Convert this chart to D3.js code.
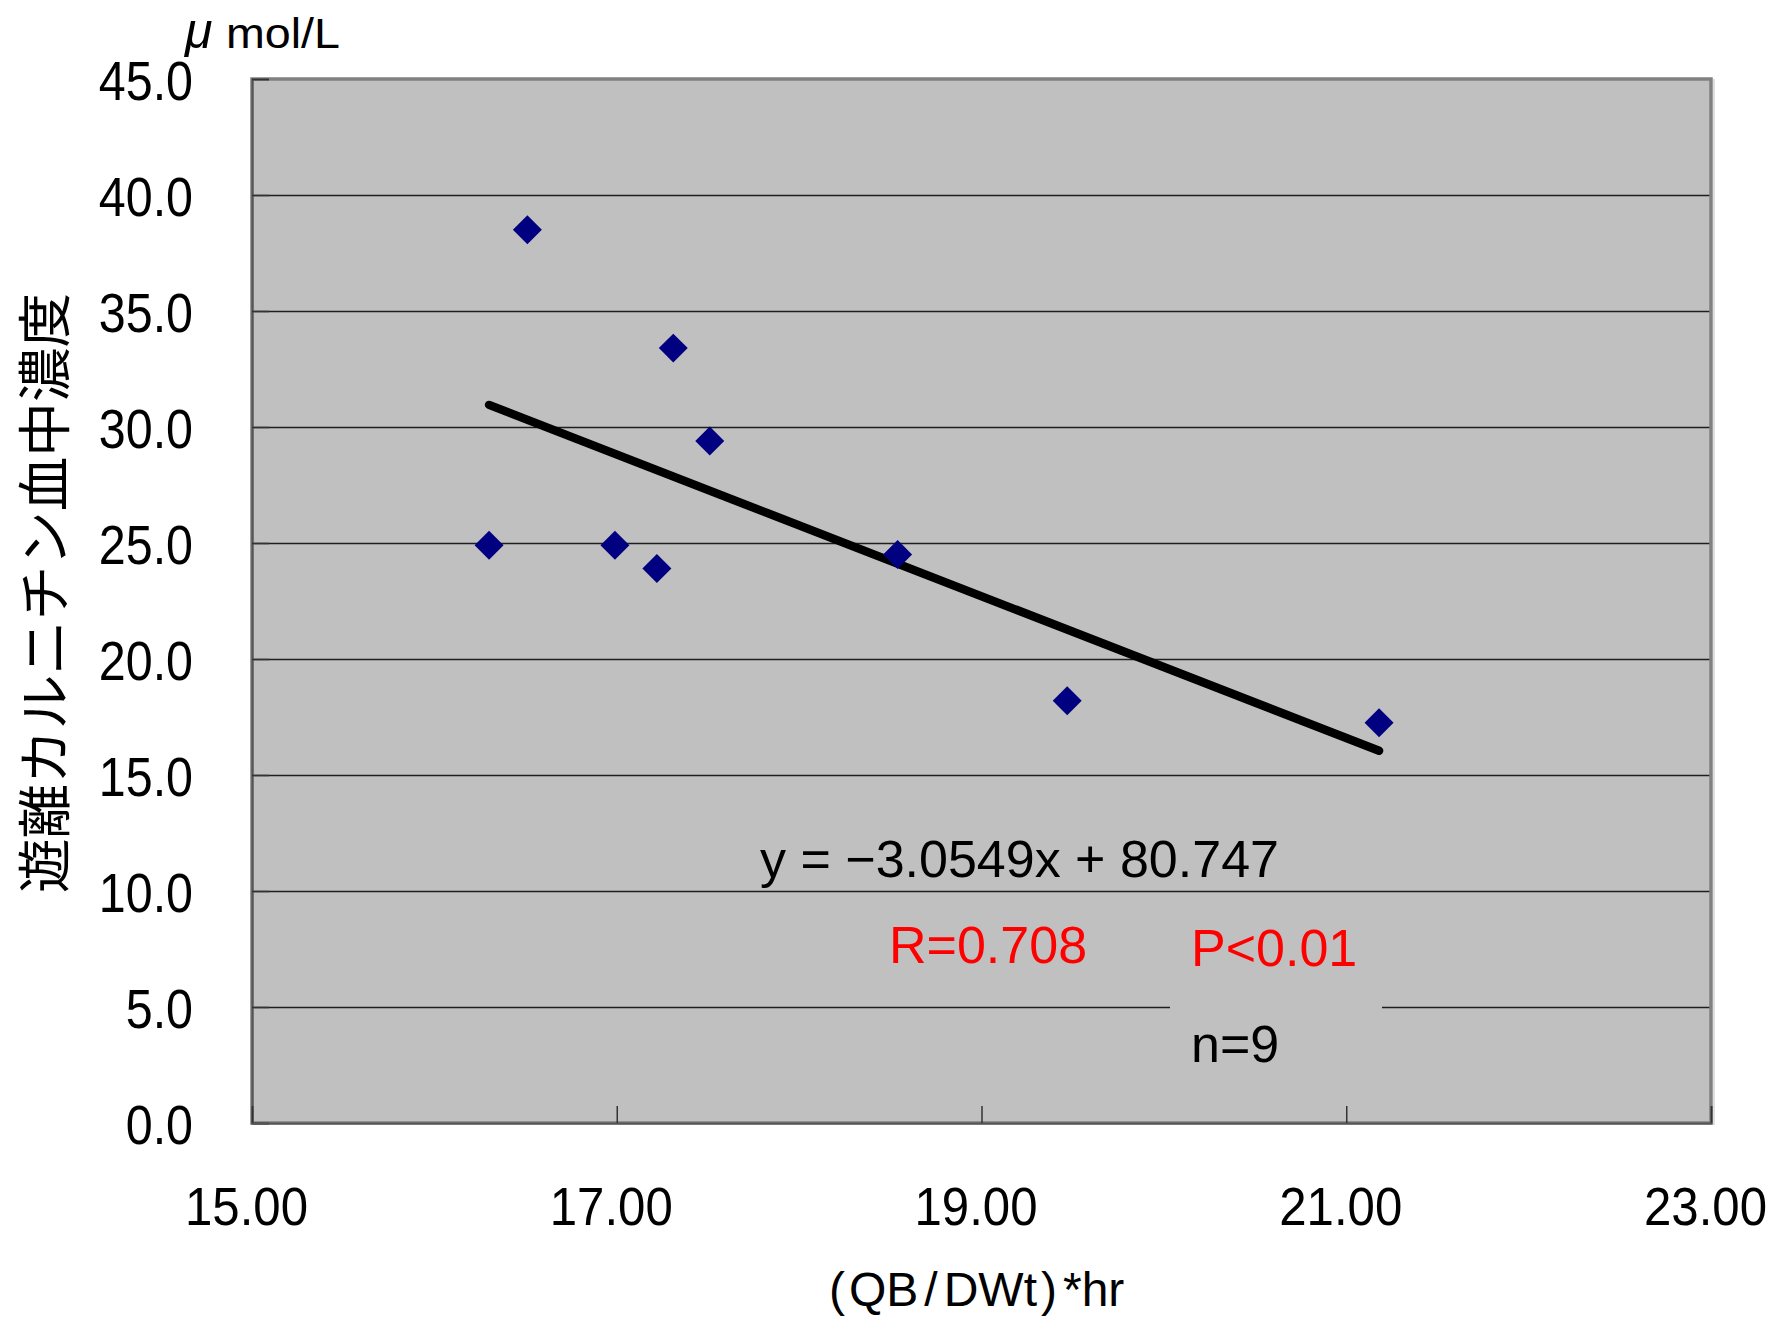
<!DOCTYPE html>
<html>
<head>
<meta charset="utf-8">
<script src="https://cdn.jsdelivr.net/npm/d3@7"></script>
<style>
  html, body { margin: 0; padding: 0; background: #fff; }
  svg { display: block; }
  .num { font-family: "Liberation Sans", Arial, sans-serif; }
</style>
</head>
<body>
<script>
// Dialysis dose vs. free carnitine concentration
const xValues = [16.30, 16.51, 16.99, 17.22, 17.31, 17.51, 18.54, 19.47, 21.18];
const yValues = [24.9, 38.5, 24.9, 23.9, 33.4, 29.4, 24.5, 18.2, 17.25];
const xTicks = [15, 17, 19, 21, 23];
const yTicks = [0, 5, 10, 15, 20, 25, 30, 35, 40, 45];
const slope = -3.0549;
const intercept = 80.747;
const equationText = "y = \u22123.0549x + 80.747";
const rText = "R=0.708";
const pText = "P<0.01";
const nText = "n=9";
const yUnit = ["\u03bc", "mol/L"];
const yTitle = "遊離カルニチン血中濃度";
const xTitleParts = ["(", "QB", "/", "DWt", ")", "*hr"];

const W = 1775, H = 1320;
const plot = { left: 252, top: 79, right: 1711, bottom: 1123 };

const svg = d3.select("body").append("svg").attr("width", W).attr("height", H);

const x = d3.scaleLinear().domain([15, 23]).range([plot.left, plot.right]);
const y = d3.scaleLinear().domain([0, 45]).range([plot.bottom, plot.top]);

// plot background
svg.append("rect")
  .attr("x", plot.left).attr("y", plot.top)
  .attr("width", plot.right - plot.left).attr("height", plot.bottom - plot.top)
  .attr("fill", "#c0c0c0");

// horizontal gridlines
const grid = svg.append("g").attr("transform", `translate(${plot.left},0)`)
  .call(d3.axisLeft(y).tickValues(yTicks.filter(v => v > 0 && v < 45))
    .tickSize(-(plot.right - plot.left)).tickFormat(""));
grid.select(".domain").remove();
grid.selectAll("line").attr("stroke", "#1e1e1e").attr("stroke-width", 1.6);

// label box that masks the gridline behind n=9
svg.append("rect")
  .attr("x", 1170).attr("y", 985).attr("width", 212).attr("height", 100)
  .attr("fill", "#c0c0c0");

// plot border
svg.append("rect")
  .attr("x", plot.left).attr("y", plot.top)
  .attr("width", plot.right - plot.left).attr("height", plot.bottom - plot.top)
  .attr("fill", "none").attr("stroke", "#808080").attr("stroke-width", 3.5);
svg.append("line")
  .attr("x1", plot.right + 3).attr("x2", plot.right + 3)
  .attr("y1", plot.top).attr("y2", plot.bottom + 2)
  .attr("stroke", "#d4d4d4").attr("stroke-width", 1.5);

// y axis
const yAxis = svg.append("g").attr("class", "num")
  .attr("transform", `translate(${plot.left},0)`)
  .call(d3.axisLeft(y).tickValues(yTicks).tickSize(-17).tickFormat(d3.format(".1f")));
yAxis.select(".domain").attr("stroke", "#555").attr("stroke-width", 2);
yAxis.selectAll(".tick line").attr("stroke", "#333").attr("stroke-width", 1.5);
yAxis.selectAll(".tick text")
  .attr("font-size", 55).attr("fill", "#000")
  .attr("text-anchor", "end")
  .attr("x", -59 / 0.88).attr("y", 20).attr("dy", null)
  .attr("transform", "scale(0.88,1)");

// x axis
const xAxis = svg.append("g").attr("class", "num")
  .attr("transform", `translate(0,${plot.bottom})`)
  .call(d3.axisBottom(x).tickValues(xTicks).tickSize(-17).tickFormat(d3.format(".2f")));
xAxis.select(".domain").attr("stroke", "#555").attr("stroke-width", 2);
xAxis.selectAll(".tick line").attr("stroke", "#333").attr("stroke-width", 1.5);
xAxis.selectAll(".tick text")
  .attr("font-size", 54).attr("fill", "#000")
  .attr("text-anchor", "middle")
  .attr("x", -6 / 0.91).attr("y", 102).attr("dy", null)
  .attr("transform", "scale(0.91,1)");

// regression line over the data range
const xMin = d3.min(xValues), xMax = d3.max(xValues);
svg.append("line")
  .attr("x1", x(xMin)).attr("y1", y(slope * xMin + intercept))
  .attr("x2", x(xMax)).attr("y2", y(slope * xMax + intercept))
  .attr("stroke", "#000").attr("stroke-width", 8.5).attr("stroke-linecap", "round");

// data points (diamonds)
const diamond = d3.symbol().type(d3.symbolSquare).size(420);
svg.append("g").selectAll("path")
  .data(xValues.map((v, i) => [v, yValues[i]]))
  .join("path")
  .attr("d", diamond)
  .attr("transform", d => `translate(${x(d[0])},${y(d[1])}) rotate(45)`)
  .attr("fill", "#000080");

// annotations
const ann = svg.append("g").attr("class", "num").attr("font-size", 52);
ann.append("text").attr("x", 760).attr("y", 877).attr("fill", "#000").text(equationText);
ann.append("text").attr("x", 889).attr("y", 963).attr("fill", "#ff0000").text(rText);
ann.append("text").attr("x", 1191).attr("y", 966).attr("fill", "#ff0000").text(pText);
ann.append("text").attr("x", 1191).attr("y", 1062).attr("fill", "#000").text(nText);

// unit label
const unit = svg.append("g").attr("class", "num");
unit.append("text").attr("x", 185).attr("y", 48).attr("font-size", 50)
  .attr("font-style", "italic").text(yUnit[0]);
unit.append("text").attr("x", 226).attr("y", 48).attr("font-size", 42)
  .attr("textLength", 114).attr("lengthAdjust", "spacingAndGlyphs").text(yUnit[1]);

// axis titles
svg.append("text")
  .attr("transform", "translate(41,593) rotate(-90)")
  .attr("text-anchor", "middle")
  .attr("dominant-baseline", "central")
  .attr("font-family", "'Noto Sans CJK JP', sans-serif")
  .attr("font-size", 54)
  .attr("textLength", 600).attr("lengthAdjust", "spacingAndGlyphs")
  .text(yTitle);

const xTitleGaps = [0, 4, 6, 6, 4, 6];
svg.append("text").attr("class", "num")
  .attr("x", 829).attr("y", 1306)
  .attr("font-size", 48)
  .selectAll("tspan")
  .data(xTitleParts)
  .join("tspan")
  .attr("dx", (d, i) => xTitleGaps[i])
  .text(d => d);
</script>
</body>
</html>
